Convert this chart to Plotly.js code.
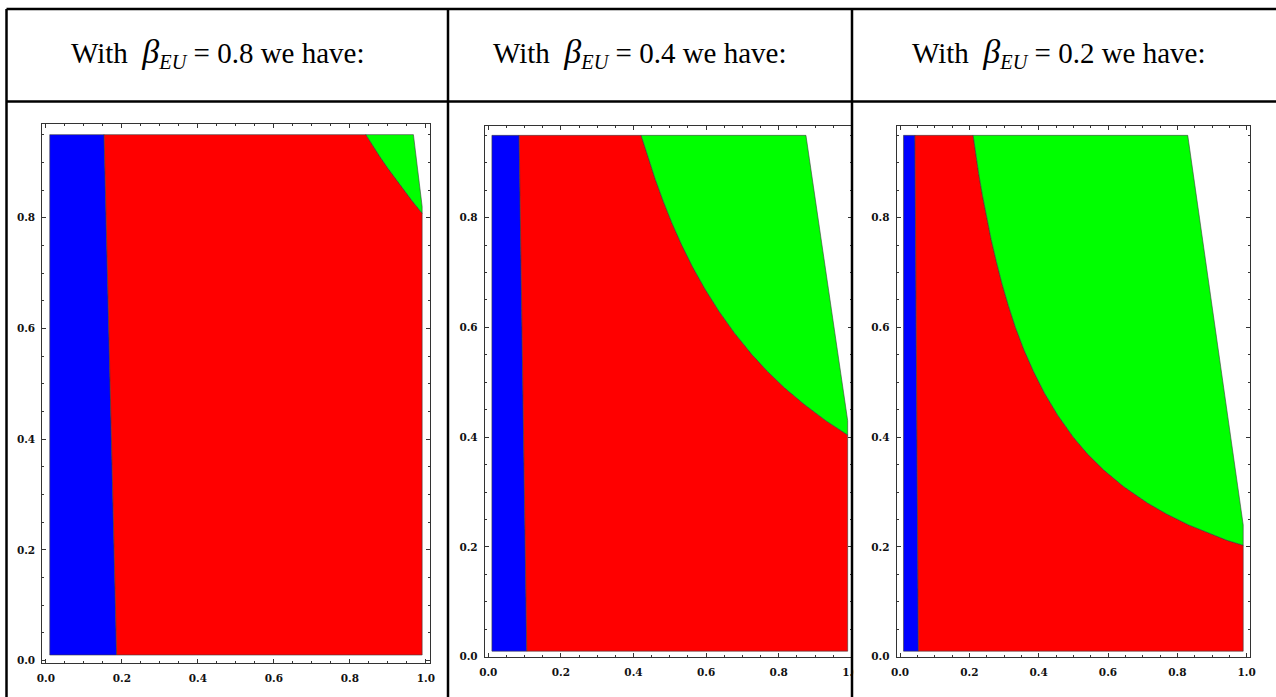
<!DOCTYPE html>
<html><head><meta charset="utf-8">
<script src="https://cdn.plot.ly/plotly-3.0.1.min.js"></script>
<style>html,body{margin:0;padding:0;background:#fff;}#chart{width:1276px;height:697px;}</style>
</head><body><div id="chart"></div>
<script>
// ---- data ----
const betaLabels = ['0.8', '0.4', '0.2'];
const regionXMin = [0.01, 0.01, 0.01];
const regionXMax = [0.99, 0.99, 0.99];
const regionYMin = [0.01, 0.01, 0.01];
const regionYMax = [0.95, 0.95, 0.95];

// blue / red boundary (x at top, x at bottom)
const blueEdgeTop = [0.153, 0.085, 0.043];
const blueEdgeBottom = [0.186, 0.106, 0.053];

// red / green boundary curves (from top down to right edge)
const curve1X = [0.842, 0.86, 0.879, 0.899, 0.92, 0.941, 0.964, 0.99];
const curve1Y = [0.95, 0.93, 0.91, 0.89, 0.87, 0.85, 0.83, 0.808];
const curve2X = [0.421, 0.44, 0.46, 0.482, 0.506, 0.533, 0.563, 0.597, 0.635, 0.678, 0.727, 0.769, 0.816, 0.87, 0.93, 0.99];
const curve2Y = [0.95, 0.91, 0.87, 0.83, 0.79, 0.75, 0.71, 0.67, 0.63, 0.59, 0.55, 0.52, 0.49, 0.46, 0.43, 0.404];
const curve3X = [0.211, 0.217, 0.227, 0.238, 0.25, 0.263, 0.278, 0.294, 0.3125, 0.333, 0.357, 0.385, 0.417, 0.455, 0.50, 0.54, 0.588, 0.645, 0.714, 0.769, 0.833, 0.889, 0.943, 0.99];
const curve3Y = [0.95, 0.92, 0.88, 0.84, 0.80, 0.76, 0.72, 0.68, 0.64, 0.60, 0.56, 0.52, 0.48, 0.44, 0.40, 0.37, 0.34, 0.31, 0.28, 0.26, 0.24, 0.225, 0.212, 0.203];

// green / white boundary (x at top, y where it meets the right edge)
const whiteEdgeTop = [0.967, 0.875, 0.830];
const whiteEdgeRightY = [0.82, 0.43, 0.24];

// tick labels
const xTickVals = [0, 0.2, 0.4, 0.6, 0.8, 1.0];
const xTickText = ['0.0', '0.2', '0.4', '0.6', '0.8', '1.0'];
const yTickVals = [0, 0.2, 0.4, 0.6, 0.8];
const yTickText = ['0.0', '0.2', '0.4', '0.6', '0.8'];

// ---- layout geometry (pixels) ----
const W = 1276, H = 697;
const px = v => v / W, py = v => 1 - v / H;
const panels = [
  {x0: 42.3, x1: 429.6, y0: 124.3, y1: 663.3, xr: [-0.0096, 1.0096], yr: [-0.005, 0.9687]},
  {x0: 484.8, x1: 852.0, y0: 125.7, y1: 657.2, xr: [-0.0096, 1.0019], yr: [-0.001, 0.9676]},
  {x0: 896.7, x1: 1250.0, y0: 125.7, y1: 657.2, xr: [-0.0096, 1.0096], yr: [-0.001, 0.9676]}
];
const curvesX = [curve1X, curve2X, curve3X];
const curvesY = [curve1Y, curve2Y, curve3Y];

const edge = {width: 0.8, color: 'rgba(60,60,60,0.75)'};
const traces = [];
for (let i = 0; i < 3; i++) {
  const xa = 'x' + (i ? i + 1 : ''), ya = 'y' + (i ? i + 1 : '');
  const cx = curvesX[i], cy = curvesY[i];
  traces.push({
    type: 'scatter', mode: 'lines', xaxis: xa, yaxis: ya, fill: 'toself', fillcolor: '#0000ff', line: edge, hoverinfo: 'skip',
    x: [regionXMin[i], regionXMin[i], blueEdgeTop[i], blueEdgeBottom[i], regionXMin[i]],
    y: [regionYMin[i], regionYMax[i], regionYMax[i], regionYMin[i], regionYMin[i]]
  });
  traces.push({
    type: 'scatter', mode: 'lines', xaxis: xa, yaxis: ya, fill: 'toself', fillcolor: '#ff0000', line: edge, hoverinfo: 'skip',
    x: [blueEdgeBottom[i], blueEdgeTop[i]].concat(cx, [regionXMax[i], blueEdgeBottom[i]]),
    y: [regionYMin[i], regionYMax[i]].concat(cy, [regionYMin[i], regionYMin[i]])
  });
  traces.push({
    type: 'scatter', mode: 'lines', xaxis: xa, yaxis: ya, fill: 'toself', fillcolor: '#00ff00', line: edge, hoverinfo: 'skip',
    x: cx.concat([regionXMax[i], whiteEdgeTop[i], cx[0]]),
    y: cy.concat([whiteEdgeRightY[i], regionYMax[i], cy[0]])
  });
}

const tickFont = {family: 'DejaVu Serif', size: 10.5, color: '#111', weight: 'bold'};
function axis(dom, range, vals, text, isX) {
  return {
    domain: dom, range: range, autorange: false, fixedrange: true,
    showgrid: false, zeroline: false, showline: true, linecolor: '#333', linewidth: 1,
    mirror: 'allticks', ticks: 'inside', ticklen: 4, tickwidth: 1, tickcolor: '#333',
    tickmode: 'array', tickvals: vals, ticktext: text, tickfont: tickFont,
    ticklabelstandoff: isX ? 5 : 4,
    minor: {dtick: 0.05, tick0: 0, ticks: 'inside', ticklen: 2, tickwidth: 1, tickcolor: '#333', showgrid: false}
  };
}

const layout = {
  width: W, height: H, margin: {l: 0, r: 0, t: 0, b: 0},
  paper_bgcolor: '#fff', plot_bgcolor: 'rgba(0,0,0,0)', showlegend: false,
  annotations: [], shapes: []
};
panels.forEach((p, i) => {
  const s = i ? i + 1 : '';
  layout['xaxis' + s] = Object.assign(axis([px(p.x0), px(p.x1)], p.xr, xTickVals, xTickText, true), {anchor: 'y' + s});
  layout['yaxis' + s] = Object.assign(axis([py(p.y1), py(p.y0)], p.yr, yTickVals, yTickText, false), {anchor: 'x' + s});
});

// header texts
const headerCenters = [218, 640, 1059];
betaLabels.forEach((b, i) => {
  layout.annotations.push({
    xref: 'paper', yref: 'paper', x: px(headerCenters[i]), y: py(53), xanchor: 'center', yanchor: 'middle',
    showarrow: false, font: {family: 'Liberation Serif', size: 29, color: '#000'},
    text: 'With\u00a0\u00a0<i><span style="font-size:34px">\u03b2</span><sub>EU</sub></i> = ' + b + ' we have:'
  });
});

// clip the tail of panel 2's last x label at the cell border
layout.shapes.push({type: 'rect', xref: 'paper', yref: 'paper', layer: 'above',
  x0: px(853.5), x1: px(872), y0: py(690), y1: py(664), fillcolor: '#fff', line: {width: 0}});
// table borders
const lineStyle = {color: '#000', width: 2.5};
[[6.5, 9, 1276, 9], [6.5, 101.5, 1276, 101.5], [6.5, 9, 6.5, 697], [448, 9, 448, 697], [852, 9, 852, 697]].forEach(l => {
  layout.shapes.push({type: 'line', xref: 'paper', yref: 'paper', layer: 'above',
    x0: px(l[0]), y0: py(l[1]), x1: px(l[2]), y1: py(l[3]), line: lineStyle});
});

Plotly.newPlot('chart', traces, layout, {displayModeBar: false, staticPlot: true});
</script>
</body></html>
